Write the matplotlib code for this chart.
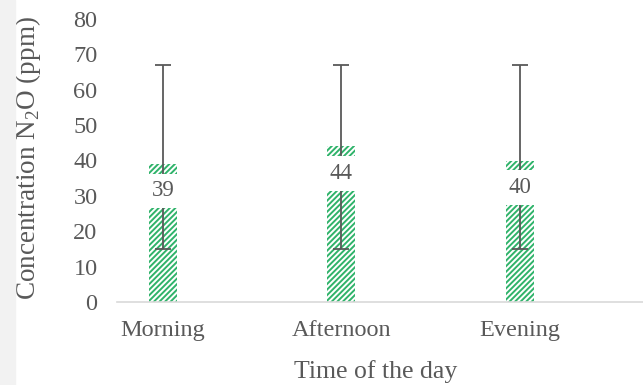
import matplotlib
matplotlib.use("Agg")
import matplotlib.pyplot as plt
import numpy as np
from matplotlib.patches import Rectangle

times = ["Morning", "Afternoon", "Evening"]
means = [39, 44, 40]
err_low = [15, 15, 15]
err_high = [67, 67, 67]

plt.rcParams['font.family'] = ['Liberation Serif', 'DejaVu Serif']
plt.rcParams['mathtext.fontset'] = 'custom'
plt.rcParams['mathtext.rm'] = 'Liberation Serif'
plt.rcParams['hatch.linewidth'] = 1.4
txt = '#595959'
green = '#2fb36a'

fig = plt.figure(figsize=(6.43, 3.85), dpi=100)
fig.patches.append(Rectangle((0, 0), 15 / 643, 1, transform=fig.transFigure,
                             color='#f2f2f2', zorder=0))
ax = fig.add_axes([117 / 643, 1 - 302 / 385, 1 - 117 / 643, (302 - 19) / 385])

x = np.arange(len(times))
means = np.array(means)
yerr = [means - np.array(err_low), np.array(err_high) - means]

ax.bar(x, means, width=0.157, color='white', edgecolor=green, hatch='//////',
       linewidth=0, zorder=2)
ax.errorbar(x, means, yerr=yerr, fmt='none', ecolor='#595959', elinewidth=1.3,
            capsize=6, capthick=1.3, zorder=3)

# value labels sit on a white box that hides the bar and error bar behind them
for xi, m in zip(x, means):
    ax.text(xi, m - 7.6, f"{m}", ha='center', va='center', fontsize=16.5, color=txt,
            zorder=4, bbox=dict(boxstyle='square,pad=0.3', fc='white', ec='none'))

ax.set_xlim(-0.258, 2.69)
ax.set_ylim(0, 80)
ax.set_yticks(range(0, 81, 10))
ax.set_xticks(x)
ax.set_xticklabels(times)
ax.tick_params(length=0, labelsize=17.5, labelcolor=txt)
ax.tick_params(axis='y', pad=14)
ax.tick_params(axis='x', pad=13)

for s in ['top', 'right', 'left']:
    ax.spines[s].set_visible(False)
ax.spines['bottom'].set_color('#d9d9d9')
ax.spines['bottom'].set_linewidth(1.2)

ax.set_xlabel("Time of the day", fontsize=18.5, color=txt)
ax.set_ylabel("Concentration N$_\\mathrm{2}$O (ppm)", fontsize=19.5, color=txt)
ax.xaxis.set_label_coords(0.492, -0.205)
ax.yaxis.set_label_coords(-0.14, 0.51)

fig.savefig("out.png", dpi=100)
